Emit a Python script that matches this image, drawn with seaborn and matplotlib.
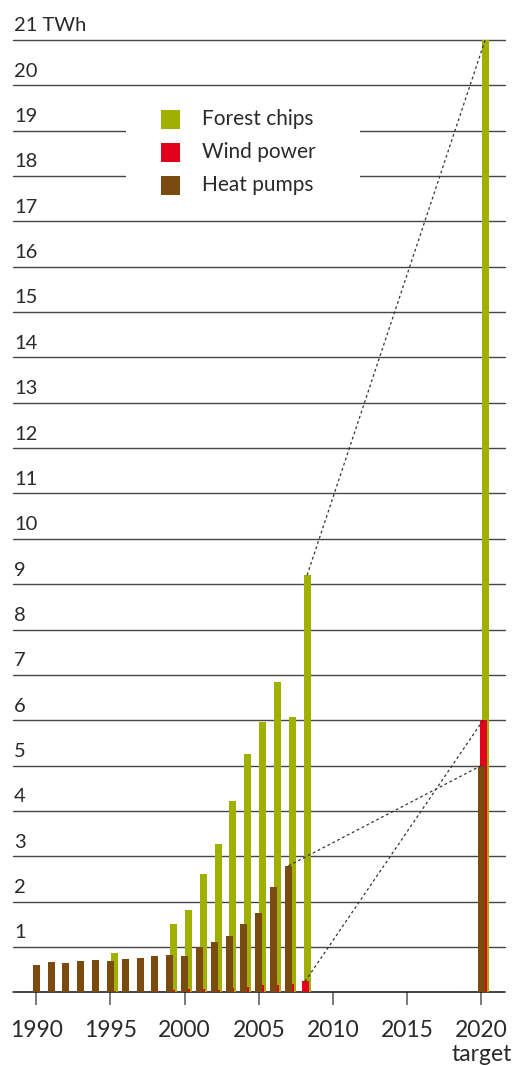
import numpy as np
import pandas as pd
import matplotlib
matplotlib.use("Agg")
import matplotlib.pyplot as plt
from matplotlib.patches import Rectangle
import seaborn as sns

# ---- data (TWh) ----
hp_years = [1990, 1991, 1992, 1993, 1994, 1995, 1996, 1997, 1998, 1999,
            2000, 2001, 2002, 2003, 2004, 2005, 2006, 2007, 2020]
heat_pumps = [0.60, 0.67, 0.65, 0.69, 0.71, 0.69, 0.73, 0.76, 0.80, 0.82,
              0.80, 1.00, 1.11, 1.24, 1.51, 1.75, 2.33, 2.79, 5.0]

wind_years = [1995, 1996, 1997, 1998, 1999, 2000, 2001, 2002, 2003, 2004,
              2005, 2006, 2007, 2008, 2020]
wind_power = [0.02, 0.01, 0.01, 0.03, 0.05, 0.07, 0.07, 0.05, 0.09, 0.11,
              0.15, 0.15, 0.18, 0.24, 6.0]

chips_years = [1995, 1999, 2000, 2001, 2002, 2003, 2004, 2005, 2006, 2007,
               2008, 2020]
forest_chips = [0.87, 1.51, 1.82, 2.61, 3.27, 4.22, 5.25, 5.96, 6.84, 6.07,
                9.20, 21.0]

tick_years = [1990, 1995, 2000, 2005, 2010, 2015, 2020]
series_names = ["Forest chips", "Wind power", "Heat pumps"]
target_label = "target"
unit_label = "TWh"

# ---- style ----
GREEN = "#a0b000"
RED = "#e2001a"
BROWN = "#7a4a0e"
TEXT = "#2a2a2a"
GRID = "#464646"
BAR_W = 0.47
OFFSETS = {"Forest chips": 0.26, "Wind power": 0.12, "Heat pumps": 0.0}

sns.set_theme(style="white")
plt.rcParams["font.family"] = ["Lato", "DejaVu Sans"]

W, H = 515, 1066
fig = plt.figure(figsize=(W / 100, H / 100), dpi=100)
AX_L, AX_R, AX_B, AX_T = 13, 505, 992.3, 40
ax = fig.add_axes([AX_L / W, (H - AX_B) / H, (AX_R - AX_L) / W, (AX_B - AX_T) / H])
ax.set_facecolor("white")


def axfrac(px, py):
    """Pixel position (from top-left of the canvas) to axes fraction."""
    return (px - AX_L) / (AX_R - AX_L), (AX_B - py) / (AX_B - AX_T)


# horizontal rules
for v in range(0, 22):
    ax.axhline(v, color="#111111" if v == 0 else GRID, lw=1.1 if v == 0 else 1.0,
               zorder=1, clip_on=False)

# bars: forest chips behind, wind power over it, heat pumps in front
series = [
    ("Forest chips", chips_years, forest_chips, GREEN),
    ("Wind power", wind_years, wind_power, RED),
    ("Heat pumps", hp_years, heat_pumps, BROWN),
]
tops = {}
for z, (name, yrs, vals, col) in enumerate(series):
    df = pd.DataFrame({"x": np.array(yrs, dtype=float) + OFFSETS[name], "v": vals})
    sns.barplot(data=df, x="x", y="v", native_scale=True, width=BAR_W,
                color=col, saturation=1, errorbar=None, linewidth=0,
                edgecolor="none", ax=ax, zorder=3 + z)
    tops[name] = df

# dotted connectors from the latest year to the 2020 target
for name, last in [("Forest chips", 2008), ("Wind power", 2008), ("Heat pumps", 2007)]:
    df = tops[name]
    xs = df["x"].to_numpy()
    vs = df["v"].to_numpy()
    i0 = int(np.argmin(np.abs(xs - (last + OFFSETS[name]))))
    i1 = len(xs) - 1
    ax.plot([xs[i0], xs[i1]], [vs[i0], vs[i1]], color="#333333", lw=0.9,
            ls=(0, (2.2, 2.2)), zorder=10, clip_on=False)

ax.set_xlim(1988.43, 2021.6)
ax.set_ylim(0, 21)
ax.set_xlabel("")
ax.set_ylabel("")
sns.despine(ax=ax, left=True, bottom=True, top=True, right=True)

# x ticks and labels
ax.set_xticks(tick_years)
ax.set_xticklabels([])
ax.set_yticks([])
ax.tick_params(axis="x", direction="out", length=9.5, width=1.1, color="#555555",
               bottom=True, pad=0)
for yr in tick_years:
    ax.annotate(str(yr), xy=(yr, 0), xycoords=("data", "axes fraction"),
                xytext=(0, -32), textcoords="offset points", ha="center",
                va="baseline", fontsize=16.5, color=TEXT)
ax.annotate(target_label, xy=(tick_years[-1], 0), xycoords=("data", "axes fraction"),
            xytext=(0, -49.5), textcoords="offset points", ha="center",
            va="baseline", fontsize=16.5, color=TEXT)

# y labels sitting on the rules
for v in range(1, 22):
    txt = f"{v} {unit_label}" if v == 21 else str(v)
    ax.annotate(txt, xy=(axfrac(14, 0)[0], v), xycoords=("axes fraction", "data"),
                xytext=(0, 6.2), textcoords="offset points", ha="left",
                va="baseline", fontsize=14.5, color=TEXT, annotation_clip=False)

# legend panel
x0, y0 = axfrac(126, 207)
x1, y1 = axfrac(360, 97)
ax.add_patch(Rectangle((x0, y0), x1 - x0, y1 - y0, transform=ax.transAxes,
                       facecolor="white", edgecolor="none", zorder=2))
for i, (name, col) in enumerate(zip(series_names, [GREEN, RED, BROWN])):
    top = 110 + 33 * i
    sx0, sy0 = axfrac(161, top + 19)
    sx1, sy1 = axfrac(180, top)
    ax.add_patch(Rectangle((sx0, sy0), sx1 - sx0, sy1 - sy0, transform=ax.transAxes,
                           facecolor=col, edgecolor="none", zorder=3))
    tx, ty = axfrac(202, top + 15)
    ax.text(tx, ty, name, transform=ax.transAxes, ha="left", va="baseline",
            fontsize=15, color=TEXT, zorder=3)

fig.savefig("out.png", dpi=100, facecolor="white")
